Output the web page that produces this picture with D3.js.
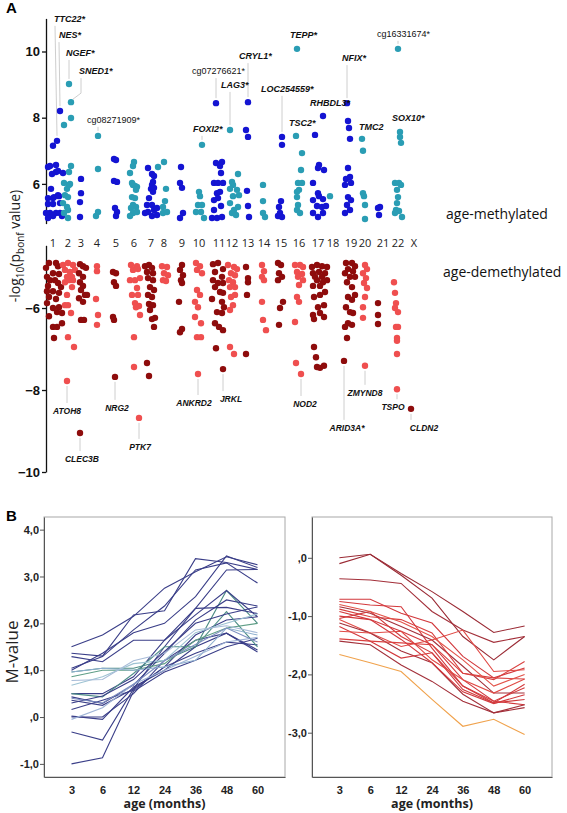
<!DOCTYPE html>
<html><head><meta charset="utf-8">
<script src="https://cdn.jsdelivr.net/npm/d3@7"></script>
<style>body{margin:0;background:#fff}svg{display:block}</style>
</head><body>
<svg id="c" width="567" height="813"></svg>
<script>
// ---------------- DATA ----------------
const chromosomes = ["1","2","3","4","5","6","7","8","9","10","11","12","13","14","15","16","17","18","19","20","21","22","X"];
// chromosome centre on the cumulative genomic index axis
const chrCenter = [7,22,35,51,70,88,105,118,136,153,173,186,202,218,235,253,272,287,305,319,337,352,368];

// age-methylated CpGs: [chromosome, genomic index, -log10(p_bonf)]
const methylated = [
[1,7,7.15],[1,11,7.30],[1,14,8.20],[1,2,6.51],[1,4,6.54],[1,10,6.57],[1,6,6.30],[1,10,6.36],[1,12,6.39],[1,17,6.33],[1,5,5.85],[1,2,5.57],[1,7,5.57],[1,12,5.66],[1,8,5.60],[1,13,5.63],[1,2,5.39],[1,7,5.39],[1,14,5.42],[1,4,5.12],[1,10,5.12],[1,14,5.12],[1,2,4.97],[1,7,5.03],[1,16,5.03],[1,0,5.12],
[2,23,9.02],[2,25,8.47],[2,25,7.99],[2,18,7.78],[2,25,6.54],[2,23,6.36],[2,18,6.03],[2,23,5.97],[2,21,5.85],[2,24,6.00],[2,19,5.66],[2,22,5.60],[2,17,5.42],[2,22,5.21],[2,18,5.12],[2,22,4.97],[2,21,5.30],
[3,35,6.15],[3,35,5.72],[3,34,5.45],[3,34,5.00],
[4,52,7.45],[4,52,6.45],[4,52,5.15],[4,50,5.03],
[5,68,6.75],[5,70,6.72],[5,68,6.09],[5,71,6.06],[5,69,5.27],[5,71,5.15],[5,70,5.03],
[6,88,6.66],[6,87,6.54],[6,84,6.33],[6,86,6.03],[6,89,5.94],[6,91,5.91],[6,87,5.97],[6,90,5.82],[6,86,5.60],[6,89,5.57],[6,87,5.36],[6,85,5.27],[6,90,5.30],[6,87,5.12],[6,91,5.15],[6,84,5.03],
[7,102,6.48],[7,106,6.30],[7,108,6.24],[7,107,6.06],[7,105,5.85],[7,107,5.76],[7,106,5.97],[7,108,5.88],[7,103,5.57],[7,101,5.36],[7,106,5.36],[7,102,5.15],[7,108,5.21],[7,106,5.03],[7,111,5.06],[7,111,5.27],[7,99,5.12],
[8,118,6.66],[8,112,6.51],[8,120,5.85],[8,119,5.48],[8,117,5.30],[8,117,5.12],[8,121,5.15],
[9,135,6.51],[9,134,6.03],[9,136,5.88],[9,137,5.12],[9,134,4.97],
[10,156,7.18],[10,153,5.76],[10,154,5.63],[10,152,5.36],[10,156,5.36],[10,150,5.15],[10,155,5.15],[10,158,4.97],
[11,170,8.44],[11,170,6.63],[11,176,6.66],[11,174,6.54],[11,175,6.33],[11,168,6.03],[11,172,6.03],[11,177,6.03],[11,171,5.72],[11,174,5.76],[11,172,5.57],[11,168,5.21],[11,175,5.33],[11,166,4.97],[11,171,4.97],[11,176,5.00],[11,168,5.51],
[12,184,7.63],[12,192,6.30],[12,186,6.06],[12,187,5.97],[12,184,5.85],[12,191,5.82],[12,187,5.63],[12,193,5.66],[12,184,5.42],[12,188,5.21],[12,186,5.12],[12,190,5.06],[12,192,5.30],
[13,202,8.47],[13,200,7.63],[13,202,7.42],[13,201,5.79],[13,202,5.33],[13,203,5.00],
[14,217,5.97],[14,217,5.48],[14,217,5.12],[14,219,5.00],
[15,236,7.42],[15,236,7.18],[15,235,5.48],[15,233,5.30],[15,234,5.12],[15,236,5.00],[15,232,5.03],
[16,251,10.08],[16,250,7.45],[16,256,6.93],[16,255,6.42],[16,252,6.03],[16,256,6.03],[16,253,5.82],[16,251,5.76],[16,251,5.60],[16,252,5.36],[16,251,5.21],[16,254,5.12],
[17,277,8.05],[17,269,7.48],[17,273,6.57],[17,272,6.48],[17,278,6.42],[17,267,6.03],[17,272,5.72],[17,273,5.63],[17,277,5.54],[17,267,5.51],[17,271,5.33],[17,276,5.30],[17,267,5.12],[17,272,5.00],[17,277,5.12],[17,280,5.33],
[18,284,5.63],
[19,301,8.44],[19,302,7.90],[19,303,7.69],[19,304,7.36],[19,302,6.48],[19,300,6.15],[19,304,6.21],[19,305,6.03],[19,299,5.97],[19,302,5.60],[19,305,5.51],[19,301,5.36],[19,304,5.21],[19,299,5.12],
[20,316,7.36],[20,317,7.00],[20,317,5.72],[20,318,5.63],[20,319,5.36],[20,319,4.94],
[21,332,5.27],[21,333,5.06],[21,334,5.30],
[22,352,10.08],[22,354,7.57],[22,354,7.42],[22,355,7.24],[22,349,6.03],[22,353,6.03],[22,355,5.97],[22,351,5.82],[22,352,5.60],[22,351,5.42],[22,350,5.21],[22,353,5.18],[22,356,5.00],[22,349,5.12]
];

// age-demethylated CpGs: [chromosome, genomic index, log10(p_bonf)]
const demethylated = [
[1,0,-5.02],[1,3,-4.90],[1,10,-4.90],[1,12,-4.98],[1,1,-5.24],[1,7,-5.15],[1,13,-5.17],[1,4,-5.32],[1,9,-5.32],[1,2,-5.46],[1,12,-5.39],[1,15,-5.49],[1,1,-5.59],[1,7,-5.59],[1,13,-5.63],[1,3,-5.73],[1,10,-5.78],[1,1,-5.88],[1,13,-5.98],[1,7,-6.00],[1,11,-6.10],[1,3,-6.20],[1,16,-6.12],[1,16,-6.37],[1,7,-6.46],[1,11,-6.46],[1,8,-6.73],
[2,17,-4.95],[2,22,-4.90],[2,27,-4.95],[2,19,-5.07],[2,24,-5.12],[2,29,-5.07],[2,21,-5.24],[2,26,-5.24],[2,19,-5.37],[2,23,-5.32],[2,27,-5.32],[2,26,-5.49],[2,21,-5.68],[2,19,-5.93],[2,22,-5.93],[2,25,-6.12],[2,22,-6.71],[2,28,-6.95],[2,21,-7.78],
[3,34,-4.93],[3,37,-4.98],[3,40,-5.02],[3,33,-5.15],[3,37,-5.24],[3,34,-5.37],[3,37,-5.46],[3,35,-5.56],[3,39,-5.68],[3,33,-5.76],[3,41,-5.68],[3,37,-5.85],[3,35,-6.29],[3,38,-6.29],[3,34,-9.05],
[4,51,-4.98],[4,51,-5.10],[4,50,-5.78],[4,52,-6.17],[4,51,-6.41],
[5,67,-5.12],[5,70,-5.15],[5,68,-5.37],[5,70,-5.46],[5,67,-6.22],[5,68,-6.29],[5,69,-7.68],
[6,85,-4.95],[6,91,-4.98],[6,87,-5.07],[6,92,-5.05],[6,84,-5.32],[6,89,-5.32],[6,94,-5.27],[6,91,-5.51],[6,86,-5.68],[6,92,-5.68],[6,89,-5.88],[6,93,-5.95],[6,90,-5.98],[6,94,-6.17],[6,88,-6.71],[6,88,-7.44],[6,93,-8.68],
[7,99,-4.98],[7,103,-4.95],[7,106,-5.02],[7,101,-5.12],[7,107,-5.15],[7,102,-5.27],[7,107,-5.32],[7,104,-5.49],[7,108,-5.56],[7,102,-5.68],[7,106,-5.73],[7,103,-5.90],[7,107,-5.93],[7,104,-6.05],[7,106,-6.27],[7,109,-6.24],[7,108,-6.46],[7,101,-7.34],[7,103,-7.66],
[8,116,-4.98],[8,121,-5.00],[8,118,-5.15],[8,122,-5.20],[8,117,-5.32],[8,120,-5.34],
[9,136,-4.95],[9,134,-5.07],[9,137,-5.20],[9,135,-5.32],[9,136,-5.39],[9,133,-5.85],[9,136,-6.51],[9,134,-6.59],
[10,150,-4.90],[10,154,-4.98],[10,151,-5.07],[10,156,-5.15],[10,151,-5.56],[10,154,-5.68],[10,149,-5.85],[10,152,-5.98],[10,149,-6.22],[10,155,-6.37],[10,151,-6.71],[10,155,-6.71],[10,152,-7.61],
[11,167,-4.93],[11,172,-4.90],[11,177,-5.05],[11,169,-5.12],[11,176,-5.24],[11,167,-5.32],[11,172,-5.39],[11,177,-5.39],[11,169,-5.49],[11,174,-5.61],[11,177,-5.63],[11,166,-5.78],[11,176,-5.85],[11,178,-5.98],[11,171,-6.10],[11,176,-6.12],[11,169,-6.37],[11,173,-6.46],[11,177,-6.54],[11,170,-6.98],[11,177,-7.49],
[12,182,-4.95],[12,188,-5.00],[12,191,-5.05],[12,185,-5.15],[12,189,-5.20],[12,183,-5.32],[12,187,-5.37],[12,184,-5.49],[12,189,-5.49],[12,185,-5.73],[12,189,-5.68],[12,184,-6.05],[12,187,-5.93],[12,184,-6.95],[12,188,-7.12],
[13,200,-5.00],[13,202,-5.27],[13,202,-5.37],[13,201,-5.68],[13,200,-7.12],
[14,216,-4.95],[14,218,-5.10],[14,216,-5.24],[14,218,-5.32],[14,216,-5.85],[14,217,-6.29],[14,220,-6.54],
[15,232,-4.90],[15,235,-4.95],[15,233,-5.15],[15,236,-5.24],[15,232,-5.32],[15,237,-5.85],[15,234,-6.00],[15,233,-6.41],
[16,249,-4.95],[16,254,-4.95],[16,257,-5.00],[16,251,-5.12],[16,256,-5.17],[16,252,-5.24],[16,257,-5.32],[16,253,-5.44],[16,251,-5.73],[16,253,-5.85],[16,249,-6.34],[16,250,-7.34],[16,255,-7.61],
[17,266,-5.00],[17,271,-4.95],[17,276,-4.98],[17,281,-5.00],[17,267,-5.15],[17,273,-5.12],[17,279,-5.15],[17,269,-5.24],[17,276,-5.24],[17,271,-5.32],[17,277,-5.37],[17,281,-5.32],[17,267,-5.46],[17,274,-5.46],[17,279,-5.61],[17,268,-5.73],[17,274,-5.68],[17,272,-5.98],[17,278,-5.93],[17,267,-6.17],[17,274,-6.12],[17,268,-6.27],[17,278,-6.22],[17,268,-6.95],[17,270,-7.20],[17,271,-7.44],[17,274,-7.46],[17,278,-7.41],
[19,300,-4.90],[19,306,-4.90],[19,309,-4.98],[19,302,-5.05],[19,307,-5.10],[19,299,-5.15],[19,304,-5.24],[19,309,-5.24],[19,301,-5.37],[19,306,-5.49],[19,309,-5.68],[19,302,-5.73],[19,306,-5.80],[19,300,-5.98],[19,304,-6.10],[19,307,-6.12],[19,302,-6.37],[19,299,-6.46],[19,306,-6.41],[19,301,-6.73],[19,298,-7.29],
[20,319,-4.95],[20,321,-5.05],[20,317,-5.15],[20,320,-5.27],[20,318,-5.39],[20,321,-5.51],[20,319,-5.73],[20,317,-5.98],[20,317,-6.24],[20,319,-7.41],
[21,332,-5.88],[21,332,-6.17],[21,332,-6.39],
[22,348,-5.37],[22,349,-5.63],[22,350,-5.88],[22,349,-6.00],[22,352,-6.10],[22,350,-6.46],[22,352,-6.46],[22,351,-6.73],[22,351,-6.80],[22,351,-7.12],[22,351,-7.98],
[23,365,-8.46]
];

// annotated genes: [label, genomic index, value]
const methGenes = [
["TTC22*",11,7.30],["NES*",14,8.20],["NGEF*",23,9.02],["SNED1*",25,8.47],["cg08271909*",52,7.45],
["cg07276621*",170,8.44],["LAG3*",184,7.63],["CRYL1*",202,8.47],["FOXI2*",156,7.18],["TEPP*",251,10.08],
["LOC254559*",236,7.42],["TSC2*",250,7.45],["RHBDL3*",277,8.05],["NFIX*",301,8.44],["TMC2",316,7.36],
["cg16331674*",352,10.08],["SOX10*",354,7.57]
];
const demethGenes = [
["ATOH8",21,-7.78],["CLEC3B",34,-9.05],["NRG2",69,-7.68],["PTK7",93,-8.68],["ANKRD2",152,-7.61],
["JRKL",177,-7.49],["NOD2",255,-7.61],["ARID3A*",298,-7.29],["ZMYND8",319,-7.41],["TSPO",351,-7.98],["CLDN2",365,-8.46]
];

// Panel B: M-value trajectories
const ageMonths = ["3","6","12","24","36","48","60"];
const methTrajectories = [
[1.50,1.75,2.15,2.75,3.10,3.42,3.25],
[1.36,1.30,2.18,2.27,3.38,3.30,3.15],
[1.29,1.18,1.64,1.64,2.32,3.14,3.15],
[1.04,1.29,1.86,2.37,3.14,3.29,2.86],
[1.00,1.36,1.80,2.00,2.57,3.44,3.19],
[0.96,1.04,1.04,1.21,1.50,2.70,2.00],
[0.50,0.50,0.86,1.64,2.18,2.70,2.14],
[0.43,0.29,0.68,1.36,2.07,2.50,2.37],
[0.36,0.25,0.60,1.50,2.32,2.34,2.21],
[0.16,0.36,0.57,1.07,1.75,2.07,2.14],
[0.00,0.00,0.50,1.21,1.64,1.79,1.39],
[0.02,-0.05,0.64,1.00,1.50,1.79,1.43],
[-0.32,-0.49,0.60,1.07,1.36,1.60,1.54],
[-1.00,-0.87,0.55,0.96,1.21,1.50,1.68],
[0.50,0.43,0.93,1.50,1.50,2.25,1.50],
[0.86,1.00,1.00,1.14,1.64,1.90,2.00],
[0.96,1.04,1.00,1.07,1.21,1.90,1.75],
[0.68,0.86,1.14,1.21,1.80,2.00,2.20],
[0.78,0.80,1.20,1.36,1.86,1.95,1.80],
[-0.05,0.20,0.70,1.00,1.30,1.60,1.70],
[0.30,0.45,0.80,1.40,2.00,2.20,2.35],
[0.40,0.30,0.70,1.20,1.55,1.90,1.60]
];
const demethTrajectories = [
[0.00,0.06,-0.27,-0.58,-0.92,-1.28,-1.17],
[-0.10,0.06,-0.30,-0.69,-1.35,-1.75,-1.35],
[-0.36,-0.38,-0.44,-0.92,-1.24,-1.45,-1.35],
[-0.71,-0.71,-0.95,-1.12,-1.69,-2.06,-1.89],
[-0.75,-0.81,-0.84,-1.55,-2.20,-2.49,-2.17],
[-0.84,-0.95,-1.18,-1.41,-1.86,-2.32,-2.32],
[-0.88,-1.01,-1.06,-1.29,-1.98,-2.09,-1.78],
[-0.92,-1.06,-1.26,-1.49,-2.09,-2.46,-2.23],
[-1.04,-0.92,-1.35,-1.63,-2.26,-2.49,-2.43],
[-1.06,-1.29,-1.52,-1.41,-1.24,-1.95,-1.92],
[-1.12,-1.29,-1.60,-1.80,-2.34,-2.66,-2.57],
[-1.18,-1.43,-1.72,-1.63,-2.20,-2.46,-2.52],
[-1.26,-1.29,-1.26,-1.75,-2.09,-2.32,-2.08],
[-1.39,-1.43,-1.46,-1.49,-1.98,-2.06,-2.08],
[-1.43,-1.49,-1.84,-2.12,-2.46,-2.66,-2.52],
[-0.80,-0.92,-1.10,-1.35,-1.75,-2.20,-2.00],
[-1.00,-1.06,-1.40,-1.80,-2.30,-2.50,-2.35],
[-1.66,-1.80,-1.95,-2.43,-2.89,-2.77,-3.03]
];

// ---------------- STYLE / LAYOUT ----------------
const colUpOdd = "#1414d2", colUpEven = "#2a9db4";
const colLoOdd = "#8e0c0c", colLoEven = "#ef4f4f";
const methLineColors = ["#3a3e88","#3a3e88","#3a3e88","#3a3e88","#3a3e88","#4c8c84","#3a3e88","#3a3e88","#3a3e88","#3a3e88","#3a3e88","#3a3e88","#3a3e88","#3a3e88","#4f8f88","#5f9e86","#8fb0cf","#9ec3d3","#a8bcd8","#9fb4d6","#3a3e88","#7d8fc0"];
const demethLineColors = ["#9a2a34","#9a2a34","#a3303a","#d2383c","#d43a3d","#a3303a","#d9403f","#d2383c","#cf3a3c","#e04a45","#a3303a","#d2383c","#e04a45","#d9403f","#a3303a","#e25248","#d2383c","#f0a24c"];
// label offsets (px) relative to annotated point: [dx of text start, dy of baseline, line x shift]
const methLabelLayout = [[-3,-119,-2],[-1,-73,-1],[-3,-28,0],[8,-28,10],[-11,-13,0],[-24,-29,0],[-9,-42,0],[-9,-43,0],[-9,-13,0],[-7,-11,0],[-21,-45,0],[-7,-10,0],[-13,-10,0],[-5,-42,0],[-3,-9,0],[-21,-12,0],[-8,-11,0]];
// [dx of text centre, dy of baseline]
const demethLabelLayout = [[0,33],[2,29],[2,34],[1,32],[-4,32],[8,33],[4,33],[3,70],[0,30],[-4,21],[13,22]];

// ---------------- DRAW ----------------
const svg = d3.select("#c");
const x = d3.scaleLinear().domain([0,380]).range([46,426]);
const yUp = d3.scaleLinear().domain([4.8,11]).range([223.6,18.4]);
const yLo = d3.scaleLinear().domain([-4.47,-10]).range([245.3,472]);

svg.append("text").attr("x",6).attr("y",13).text("A")
  .style("font","bold 15px Arial");

function styleAxis(g){
  g.select(".domain").attr("stroke","#111").attr("stroke-width",1.3);
  g.selectAll(".tick line").attr("stroke","#111").attr("stroke-width",1.3);
  g.selectAll(".tick text").style("font","bold 13px Arial").attr("fill","#111");
}
svg.append("g").attr("transform","translate(46,0)")
  .call(d3.axisLeft(yUp).tickValues([6,8,10]).tickSize(4).tickSizeOuter(0).tickPadding(2).tickFormat(d3.format("d")))
  .call(styleAxis);
svg.append("g").attr("transform","translate(46,0)")
  .call(d3.axisLeft(yLo).tickValues([-6,-8,-10]).tickSize(4).tickSizeOuter(0).tickPadding(2).tickFormat(d3.format("d")))
  .call(styleAxis);

// y label
const yl = svg.append("text").attr("transform","translate(20,246) rotate(-90)")
  .attr("text-anchor","middle").style("font","14px 'Open Sans'").attr("fill","#222");
yl.append("tspan").text("-log");
yl.append("tspan").text("10").attr("dy",4).style("font-size","10px");
yl.append("tspan").text("(p").attr("dy",-4);
yl.append("tspan").text("bonf").attr("dy",4).style("font-size","10px");
yl.append("tspan").text(" value)").attr("dy",-4);

// chromosome labels
svg.append("g").selectAll("text").data(chromosomes).join("text")
  .attr("x",(d,i)=>x(chrCenter[i])).attr("y",247).attr("text-anchor","middle")
  .style("font","11px 'Open Sans'").attr("fill","#222").text(d=>d);

svg.append("text").attr("x",446).attr("y",219).text("age-methylated").style("font","14px 'Open Sans'").attr("fill","#111");
svg.append("text").attr("x",443).attr("y",277).text("age-demethylated").style("font","14px 'Open Sans'").attr("fill","#111");

// annotation lines (under points)
const gl = svg.append("g").attr("stroke","#c8c8c8").attr("stroke-width",0.9).attr("fill","none");
methGenes.forEach((g,i)=>{
  const [dx,dy,lx]=methLabelLayout[i];
  const px=x(g[1]), py=yUp(g[2]);
  const top=py+dy+4, bot=py-5;
  if(bot-top>2){
    const pts = lx>5 ? [[px+lx,top],[px+lx,bot-4],[px+2,py-3]] : [[px+lx,top],[px,bot]];
    gl.append("path").attr("d",d3.line()(pts));
  }
});
demethGenes.forEach((g,i)=>{
  const [dx,dy]=demethLabelLayout[i];
  const px=x(g[1]), py=yLo(g[2]);
  const top=py+5, bot=py+dy-11;
  if(bot-top>2) gl.append("line").attr("x1",px).attr("x2",px).attr("y1",top).attr("y2",bot);
});

// points
svg.append("g").selectAll("circle").data(methylated).join("circle")
  .attr("cx",d=>x(d[1])).attr("cy",d=>yUp(d[2])).attr("r",3.2)
  .attr("fill",d=>d[0]%2?colUpOdd:colUpEven);
svg.append("g").selectAll("circle").data(demethylated).join("circle")
  .attr("cx",d=>x(d[1])).attr("cy",d=>yLo(d[2])).attr("r",3.2)
  .attr("fill",d=>d[0]%2?colLoOdd:colLoEven);

// gene labels
methGenes.forEach((g,i)=>{
  const [dx,dy]=methLabelLayout[i];
  const isCg = g[0].startsWith("cg");
  svg.append("text").attr("x",x(g[1])+dx).attr("y",yUp(g[2])+dy).text(g[0])
    .style("font",(isCg?"":"italic bold ")+"9px Arial").attr("fill","#111");
});
demethGenes.forEach((g,i)=>{
  const [dx,dy]=demethLabelLayout[i];
  svg.append("text").attr("x",x(g[1])+dx).attr("y",yLo(g[2])+dy).attr("text-anchor","middle").text(g[0])
    .style("font","italic bold 8.5px Arial").attr("fill","#111");
});

// ---------------- PANEL B ----------------
svg.append("text").attr("x",6).attr("y",521).text("B").style("font","bold 15px Arial");
const commaFmt = d => {
  const a=Math.abs(d); if(a<1e-9) return ",0";
  return (d<0?"-":"")+(a>=1?Math.floor(a+1e-9):"")+","+Math.round((a%1)*10);
};
function panel(x0,x1,domain,ticks,series,colors){
  const xs=d3.scalePoint().domain(ageMonths).range([x0,x1]).padding(0.887);
  const ys=d3.scaleLinear().domain(domain).range([777,517]);
  svg.append("rect").attr("x",x0).attr("y",517).attr("width",x1-x0).attr("height",260)
    .attr("fill","none").attr("stroke","#a8a8a8").attr("stroke-width",1);
  const line=d3.line().x((d,i)=>xs(ageMonths[i])).y(d=>ys(d));
  svg.append("g").selectAll("path").data(series).join("path")
    .attr("d",line).attr("fill","none").attr("stroke",(d,i)=>colors[i]).attr("stroke-width",1.1);
  const ga=svg.append("g").attr("transform",`translate(${x0},0)`)
    .call(d3.axisLeft(ys).tickValues(ticks).tickSize(4).tickSizeOuter(0).tickPadding(1).tickFormat(commaFmt));
  ga.select(".domain").attr("stroke","#555");
  ga.selectAll(".tick line").attr("stroke","#555");
  ga.selectAll(".tick text").style("font","bold 11px Arial").attr("fill","#222");
  const gb=svg.append("g").attr("transform","translate(0,777)")
    .call(d3.axisBottom(xs).tickSize(0).tickSizeOuter(0).tickPadding(9));
  gb.select(".domain").attr("stroke","#555");
  gb.selectAll(".tick text").style("font","bold 11px Arial").attr("fill","#222");
  svg.append("text").attr("x",xs("24")).attr("y",808).attr("text-anchor","middle")
    .text("age (months)").style("font","bold 12.5px 'Open Sans'").attr("fill","#222");
}
panel(44,285,[-1.28,4.27],[-1,0,1,2,3,4],methTrajectories,methLineColors);
panel(312,552,[-3.76,0.70],[-3,-2,-1,0],demethTrajectories,demethLineColors);
svg.append("text").attr("transform","translate(18,652) rotate(-90)").attr("text-anchor","middle")
  .text("M-value").style("font","17px 'Open Sans'").attr("fill","#222");
</script>
</body></html>
